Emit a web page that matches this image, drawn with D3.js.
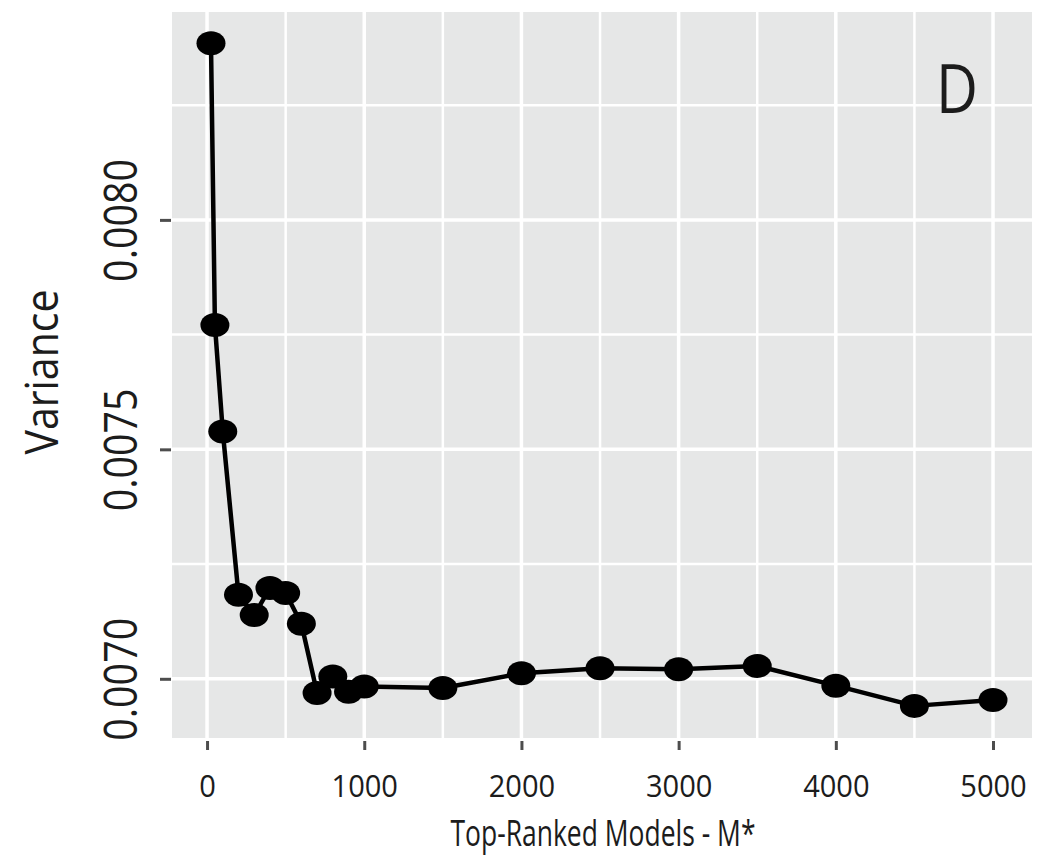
<!DOCTYPE html>
<html>
<head>
<meta charset="utf-8">
<script src="https://cdn.jsdelivr.net/npm/d3@7"></script>
<style>
  html, body { margin: 0; padding: 0; background: #ffffff; }
  svg { display: block; }
  text { font-family: "Open Sans", "DejaVu Sans", sans-serif; fill: #1c1c1c; }
</style>
</head>
<body>
<svg id="chart" width="1050" height="859"></svg>
<script>
// Number of top-ranked models kept (M*) and the resulting variance
const models = [25, 50, 100, 200, 300, 400, 500, 600, 700, 800, 900, 1000,
                1500, 2000, 2500, 3000, 3500, 4000, 4500, 5000];
const variance = [0.008385, 0.007771, 0.007539, 0.007183, 0.007139, 0.007198,
                  0.007187, 0.007120, 0.006969, 0.007005, 0.006972, 0.006983,
                  0.006980, 0.007012, 0.007023, 0.007021, 0.007028, 0.006985,
                  0.006941, 0.006954];

const xMajor = [0, 1000, 2000, 3000, 4000, 5000];
const xMinor = [500, 1500, 2500, 3500, 4500];
const yMajor = [0.0070, 0.0075, 0.0080];
const yMinor = [0.00725, 0.00775, 0.00825];
const xTickLabels = ["0", "1000", "2000", "3000", "4000", "5000"];
const yTickLabels = ["0.0070", "0.0075", "0.0080"];

const panelLabel = "D";
const xTitle = "Top-Ranked Models - M*";
const yTitle = "Variance";

const svg = d3.select("#chart");
const panel = { left: 172, right: 1032, top: 12, bottom: 738 };

const x = d3.scaleLinear().domain([-223, 5248]).range([panel.left, panel.right]);
const y = d3.scaleLinear().domain([0.006871, 0.008453]).range([panel.bottom, panel.top]);

// panel background
svg.append("rect")
  .attr("x", panel.left).attr("y", panel.top)
  .attr("width", panel.right - panel.left)
  .attr("height", panel.bottom - panel.top)
  .attr("fill", "#e6e7e7");

const grid = svg.append("g").attr("stroke", "#ffffff");

// minor grid lines
grid.selectAll("line.xminor").data(xMinor).join("line")
  .attr("class", "xminor")
  .attr("x1", d => x(d)).attr("x2", d => x(d))
  .attr("y1", panel.top).attr("y2", panel.bottom)
  .attr("stroke-width", 2.5);
grid.selectAll("line.yminor").data(yMinor).join("line")
  .attr("class", "yminor")
  .attr("x1", panel.left).attr("x2", panel.right)
  .attr("y1", d => y(d)).attr("y2", d => y(d))
  .attr("stroke-width", 2.5);

// major grid lines
grid.selectAll("line.xmajor").data(xMajor).join("line")
  .attr("class", "xmajor")
  .attr("x1", d => x(d)).attr("x2", d => x(d))
  .attr("y1", panel.top).attr("y2", panel.bottom)
  .attr("stroke-width", 3.5);
grid.selectAll("line.ymajor").data(yMajor).join("line")
  .attr("class", "ymajor")
  .attr("x1", panel.left).attr("x2", panel.right)
  .attr("y1", d => y(d)).attr("y2", d => y(d))
  .attr("stroke-width", 3.5);

// x axis: short ticks under the panel and labels
const xAxis = d3.axisBottom(x)
  .tickValues(xMajor)
  .tickFormat((d, i) => xTickLabels[i])
  .tickSize(9)
  .tickPadding(4);
const gx = svg.append("g")
  .attr("transform", `translate(0,${panel.bottom + 3})`)
  .call(xAxis);
gx.select(".domain").remove();
gx.selectAll(".tick line").attr("stroke", "#4d4d4d").attr("stroke-width", 3);
gx.selectAll(".tick text")
  .attr("dy", null)
  .attr("y", 797 - panel.bottom - 3)
  .attr("font-size", 31)
  .attr("fill", "#1c1c1c")
  .attr("textLength", d => String(d).length * 16.6)
  .attr("lengthAdjust", "spacingAndGlyphs");

// y axis: ticks left of the panel and rotated labels
const yAxis = d3.axisLeft(y)
  .tickValues(yMajor)
  .tickFormat((d, i) => yTickLabels[i])
  .tickSize(11)
  .tickPadding(0);
const gy = svg.append("g")
  .attr("transform", `translate(${panel.left - 1},0)`)
  .call(yAxis);
gy.select(".domain").remove();
gy.selectAll(".tick line").attr("stroke", "#4d4d4d").attr("stroke-width", 3);
gy.selectAll(".tick text")
  .attr("x", null).attr("dy", null)
  .attr("text-anchor", "middle")
  .attr("transform", `translate(${137 - panel.left + 1},0) rotate(-90)`)
  .attr("font-size", 45)
  .attr("fill", "#1c1c1c")
  .attr("textLength", 123)
  .attr("lengthAdjust", "spacingAndGlyphs");

// connecting line
const line = d3.line()
  .x((d, i) => x(models[i]))
  .y(d => y(d));
svg.append("path")
  .datum(variance)
  .attr("d", line)
  .attr("fill", "none")
  .attr("stroke", "#000000")
  .attr("stroke-width", 4.5)
  .attr("stroke-linejoin", "round");

// points
svg.append("g").selectAll("ellipse").data(variance).join("ellipse")
  .attr("cx", (d, i) => x(models[i]))
  .attr("cy", d => y(d))
  .attr("rx", 14.5)
  .attr("ry", 12)
  .attr("fill", "#000000");

// panel tag
svg.append("text")
  .attr("x", 957).attr("y", 113)
  .attr("text-anchor", "middle")
  .attr("font-size", 67)
  .attr("textLength", 42)
  .attr("lengthAdjust", "spacingAndGlyphs")
  .text(panelLabel);

// axis titles
svg.append("text")
  .attr("x", (panel.left + panel.right) / 2 + 1)
  .attr("y", 846)
  .attr("text-anchor", "middle")
  .attr("font-size", 37)
  .attr("textLength", 305)
  .attr("lengthAdjust", "spacingAndGlyphs")
  .text(xTitle);

svg.append("text")
  .attr("transform", `translate(58,${(panel.top + panel.bottom) / 2 - 3}) rotate(-90)`)
  .attr("text-anchor", "middle")
  .attr("font-size", 45)
  .attr("textLength", 165)
  .attr("lengthAdjust", "spacingAndGlyphs")
  .text(yTitle);
</script>
</body>
</html>
